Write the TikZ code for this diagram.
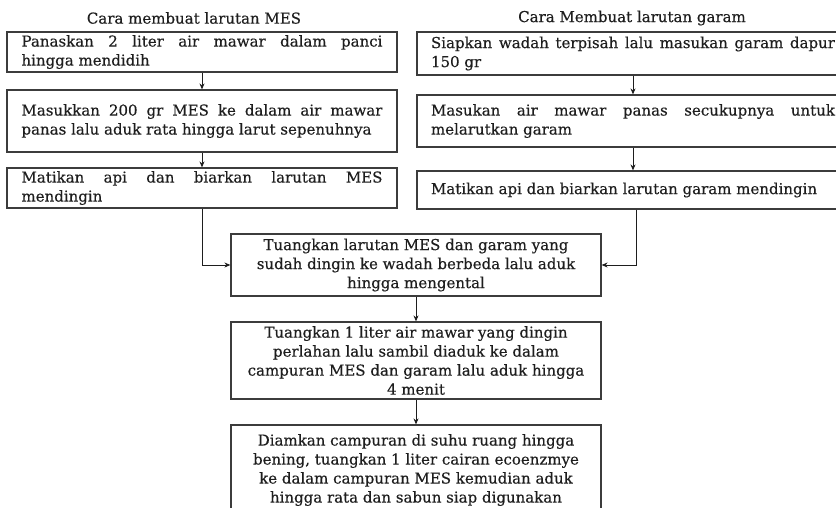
\documentclass[tikz,border=0pt]{standalone}
\usepackage{fontspec}
\setmainfont{DejaVu Serif}
\newfontfamily\inkfont[FakeBold=0.35]{DejaVu Serif}
\usetikzlibrary{arrows.meta}
\definecolor{ink}{RGB}{30,30,30}
\definecolor{edge}{RGB}{60,60,60}
\newcommand{\jL}[1]{\makebox[361pt][s]{#1}}
\newcommand{\nL}[1]{\makebox[361pt][l]{#1}}
\newcommand{\jR}[1]{\makebox[404pt][s]{#1}}
\newcommand{\nR}[1]{\makebox[404pt][l]{#1}}
\tikzset{
  every node/.style={font=\inkfont\fontsize{15}{19}\selectfont, text=ink},
  stepbox/.style={draw=edge, line width=1.2pt, inner xsep=0pt, inner ysep=0pt, align=left},
  midbox/.style={draw=edge, line width=1.2pt, inner xsep=0pt, inner ysep=0pt, align=center, minimum width=370pt},
  titlelabel/.style={inner sep=0pt},
  flow/.style={draw=ink, line width=0.9pt, -{Stealth[length=6pt,width=5pt]}}
}
\begin{document}
\begin{tikzpicture}[x=1pt,y=-1pt]
\clip (0,0) rectangle (836,507);
\fill[white] (0,0) rectangle (836,507);

\node[titlelabel] (T1) at (194,18) {Cara membuat larutan MES};
\node[titlelabel] (T2) at (632,18) {Cara Membuat larutan garam};

\node[stepbox, minimum width=390pt, minimum height=40pt] (L1) at (202,52)
  {\jL{Panaskan 2 liter air mawar dalam panci}\\\nL{hingga mendidih}};
\node[stepbox, minimum width=390pt, minimum height=62pt] (L2) at (202,121)
  {\jL{Masukkan 200 gr MES ke dalam air mawar}\\\nL{panas lalu aduk rata hingga larut sepenuhnya}};
\node[stepbox, minimum width=390pt, minimum height=40pt] (L3) at (202,188)
  {\jL{Matikan api dan biarkan larutan MES}\\\nL{mendingin}};

\node[stepbox, minimum width=432pt, minimum height=43pt] (R1) at (633,53.5)
  {\jR{Siapkan wadah terpisah lalu masukan garam dapur}\\\nR{150 gr}};
\node[stepbox, minimum width=432pt, minimum height=52pt] (R2) at (633,121)
  {\jR{Masukan air mawar panas secukupnya untuk}\\\nR{melarutkan garam}};
\node[stepbox, minimum width=432pt, minimum height=38pt] (R3) at (633,190)
  {\nR{Matikan api dan biarkan larutan garam mendingin}};

\node[midbox, minimum height=62pt] (C1) at (416,265)
  {Tuangkan larutan MES dan garam yang\\sudah dingin ke wadah berbeda lalu aduk\\hingga mengental};
\node[midbox, minimum height=77pt] (C2) at (416,360.5)
  {Tuangkan 1 liter air mawar yang dingin\\perlahan lalu sambil diaduk ke dalam\\campuran MES dan garam lalu aduk hingga\\4 menit};
\node[midbox, minimum height=90pt] (C3) at (416,470)
  {Diamkan campuran di suhu ruang hingga\\bening, tuangkan 1 liter cairan ecoenzmye\\ke dalam campuran MES kemudian aduk\\hingga rata dan sabun siap digunakan};

\draw[flow] (L1.south) -- (L2.north);
\draw[flow] (L2.south) -- (L3.north);
\draw[flow] (R1.south) -- (R2.north);
\draw[flow] (R2.south) -- (R3.north);
\draw[flow] (L3.south) |- (C1.west);
\draw[flow] ([xshift=3pt]R3.south) |- (C1.east);
\draw[flow] (C1.south) -- (C2.north);
\draw[flow] (C2.south) -- (C3.north);
\end{tikzpicture}
\end{document}
